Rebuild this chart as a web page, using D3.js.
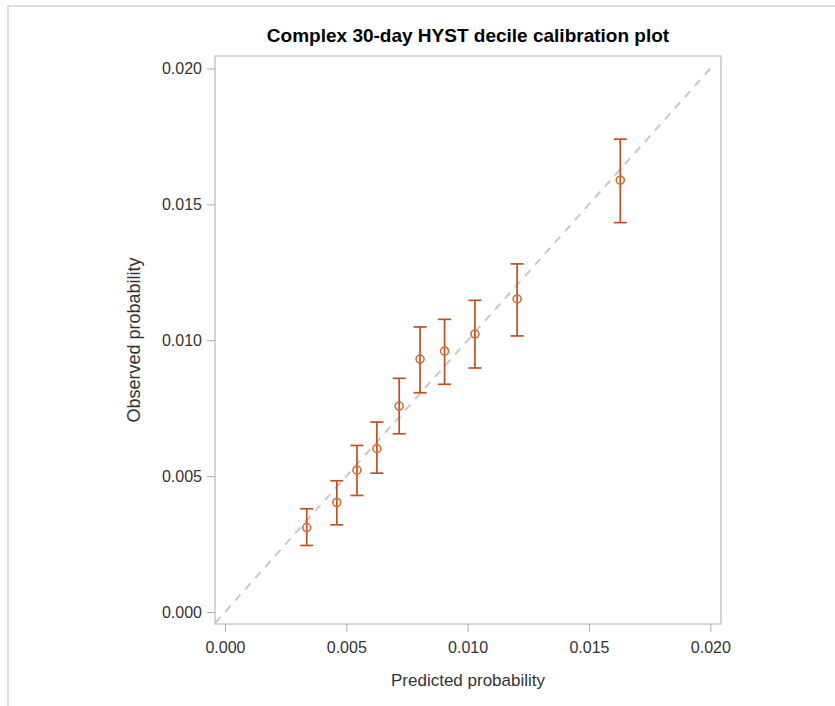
<!DOCTYPE html>
<html>
<head>
<meta charset="utf-8">
<script src="https://cdn.jsdelivr.net/npm/d3@7"></script>
<style>
  body { margin: 0; background: #fff; }
  svg { display: block; font-family: "Liberation Sans", Arial, sans-serif; }
  .axis path, .axis line { stroke: #a9afb5; }
  .axis text { fill: #333; font-size: 16px; }
</style>
</head>
<body>
<div id="chart"></div>
<script>
// decile calibration: predicted vs observed with 95% CI
const predicted = [0.00337, 0.00461, 0.00544, 0.00626, 0.00718, 0.00804, 0.00905, 0.01030, 0.01204, 0.01629];
const observed  = [0.00311, 0.00403, 0.00522, 0.00601, 0.00758, 0.00931, 0.00960, 0.01023, 0.01152, 0.01589];
const lower     = [0.00245, 0.00321, 0.00429, 0.00511, 0.00656, 0.00807, 0.00838, 0.00898, 0.01016, 0.01433];
const upper     = [0.00380, 0.00483, 0.00613, 0.00699, 0.00860, 0.01049, 0.01077, 0.01147, 0.01281, 0.01740];
const ticks = [0, 0.005, 0.010, 0.015, 0.020];
const refLine = [-0.0004, 0.020];

const title = "Complex 30-day HYST decile calibration plot";
const xLab = "Predicted probability";
const yLab = "Observed probability";

function buildChart() {
    const width = 835;
    const height = 706;
    const margin = { top: 56, left: 215 };
    const innerWidth = 506;
    const innerHeight = 568;

    const svg = d3.select("#chart")
        .append("svg")
        .attr("width", width)
        .attr("height", height);

    // page border (only top/left visible)
    svg.append("rect")
        .attr("x", 8).attr("y", 6)
        .attr("width", width + 10).attr("height", height + 10)
        .attr("fill", "none")
        .attr("stroke", "#d2d2d2")
        .attr("stroke-width", 1.5);

    const g = svg.append("g")
        .attr("transform", `translate(${margin.left},${margin.top})`);

    const xScale = d3.scaleLinear()
        .domain([-0.00041, 0.02044])
        .range([0, innerWidth]);

    const yScale = d3.scaleLinear()
        .domain([-0.00044, 0.02046])
        .range([innerHeight, 0]);

    // frame
    g.append("rect")
        .attr("width", innerWidth)
        .attr("height", innerHeight)
        .attr("fill", "none")
        .attr("stroke", "#a9afb5");

    // X axis
    g.append("g")
        .attr("class", "axis")
        .attr("transform", `translate(0,${innerHeight})`)
        .call(d3.axisBottom(xScale).tickValues(ticks).tickFormat(d3.format(".3f"))
            .tickSize(8).tickSizeOuter(0).tickPadding(10))
        .call(a => a.select(".domain").remove());

    // Y axis
    g.append("g")
        .attr("class", "axis")
        .call(d3.axisLeft(yScale).tickValues(ticks).tickFormat(d3.format(".3f"))
            .tickSize(8).tickSizeOuter(0).tickPadding(5))
        .call(a => a.select(".domain").remove());

    // diagonal reference
    g.append("line")
        .attr("x1", xScale(refLine[0])).attr("y1", yScale(refLine[0]))
        .attr("x2", xScale(refLine[1])).attr("y2", yScale(refLine[1]))
        .attr("stroke", "#c8c8c8")
        .attr("stroke-width", 2)
        .attr("stroke-dasharray", "8,7");

    const pts = predicted.map((p, i) => ({ p, o: observed[i], lo: lower[i], hi: upper[i] }));
    const barColor = "#bf5020";
    const cap = 6.5;

    const bars = g.selectAll(".err")
        .data(pts)
        .enter()
        .append("g")
        .attr("class", "err")
        .attr("stroke", barColor)
        .attr("stroke-width", 1.7);

    bars.append("line")
        .attr("x1", d => xScale(d.p)).attr("x2", d => xScale(d.p))
        .attr("y1", d => yScale(d.lo)).attr("y2", d => yScale(d.hi));
    bars.append("line")
        .attr("x1", d => xScale(d.p) - cap).attr("x2", d => xScale(d.p) + cap)
        .attr("y1", d => yScale(d.hi)).attr("y2", d => yScale(d.hi));
    bars.append("line")
        .attr("x1", d => xScale(d.p) - cap).attr("x2", d => xScale(d.p) + cap)
        .attr("y1", d => yScale(d.lo)).attr("y2", d => yScale(d.lo));

    // markers
    g.selectAll(".pt")
        .data(pts)
        .enter()
        .append("circle")
        .attr("class", "pt")
        .attr("cx", d => xScale(d.p))
        .attr("cy", d => yScale(d.o))
        .attr("r", 4)
        .attr("fill", "none")
        .attr("stroke", "#dc6a2c")
        .attr("stroke-width", 1.6);

    // title
    svg.append("text")
        .attr("x", margin.left + innerWidth / 2)
        .attr("y", 42)
        .attr("text-anchor", "middle")
        .attr("font-size", "19px")
        .attr("font-weight", "bold")
        .attr("fill", "#000")
        .text(title);

    // X axis label
    svg.append("text")
        .attr("x", margin.left + innerWidth / 2)
        .attr("y", 686)
        .attr("text-anchor", "middle")
        .attr("font-size", "17px")
        .attr("fill", "#333")
        .text(xLab);

    // Y axis label
    svg.append("text")
        .attr("transform", "rotate(-90)")
        .attr("x", -(margin.top + innerHeight / 2))
        .attr("y", 140)
        .attr("text-anchor", "middle")
        .attr("font-size", "18px")
        .attr("fill", "#333")
        .text(yLab);
}

buildChart();
</script>
</body>
</html>
